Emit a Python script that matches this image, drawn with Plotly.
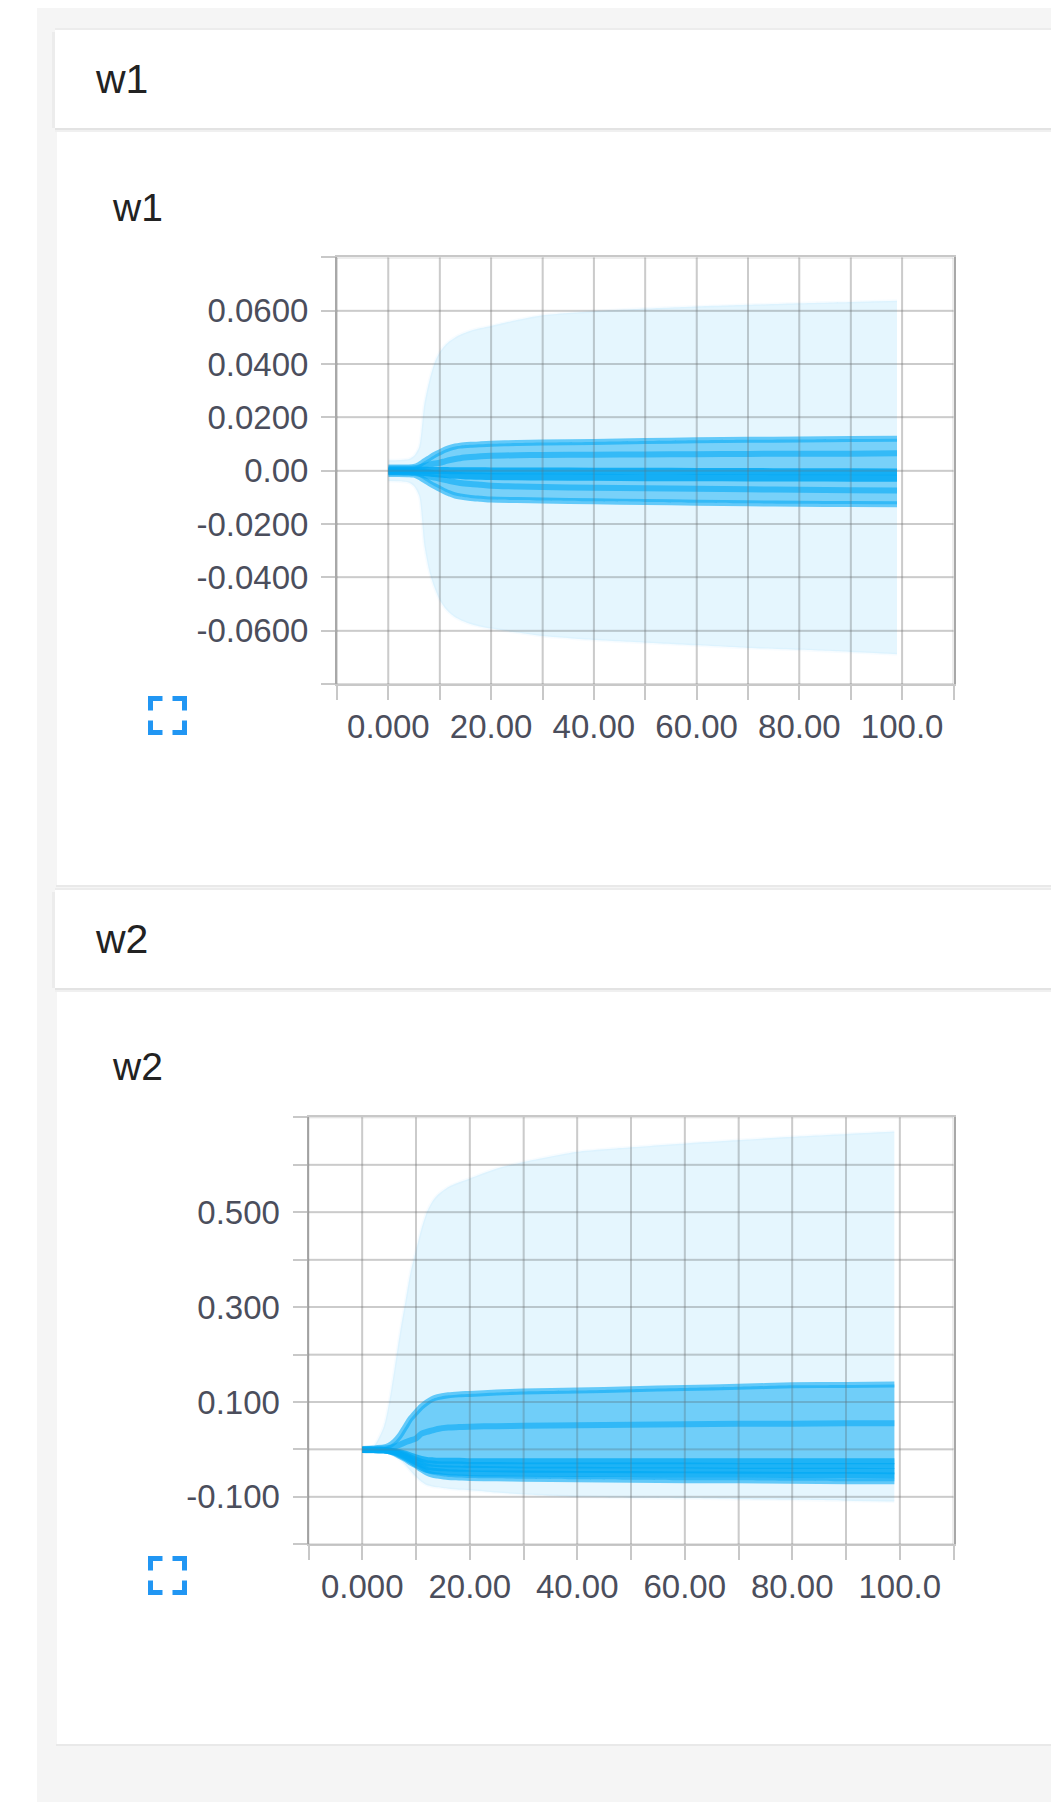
import plotly.graph_objects as go

W, H = 1051, 1802

# ---------- data ----------
steps = [0, 2, 4, 5, 6, 7, 8, 9, 10, 11, 12, 13, 14, 16, 18, 20, 25, 30, 40, 50, 60, 70, 80, 90, 99]

w1_max = [.0039, .0040, .0044, .0056, .0090, .0250, .0340, .0405, .0445, .0470, .0487, .0500, .0510, .0525, .0535, .0543, .0565, .0583, .0598, .0608, .0616, .0622, .0628, .0633, .0637]
w1_min = [-.0039, -.0040, -.0045, -.0058, -.0095, -.0280, -.0380, -.0440, -.0485, -.0515, -.0535, -.0550, -.0560, -.0575, -.0585, -.0592, -.0607, -.0620, -.0635, -.0645, -.0655, -.0665, -.0672, -.0680, -.0688]
w1_p93 = [.0012, .0012, .0012, .0014, .0022, .0035, .0047, .0059, .0069, .0079, .0086, .0091, .0094, .0097, .0099, .0101, .0104, .0106, .0108, .0111, .0114, .0116, .0117, .0119, .0120]
w1_p84 = [.0008, .0008, .0008, .0009, .0012, .0018, .0023, .0027, .0030, .0035, .0040, .0044, .0047, .0051, .0054, .0056, .0058, .0059, .0060, .0061, .0062, .0063, .0064, .0064, .0065]
w1_p58 = [.0002, .0002, .0002, .0002, .0002, .0002, .0001, .0001, .0001, .0001, .0000, .0000, .0000, .0000, .0000, -.0001, -.0001, -.0001, -.0002, -.0002, -.0003, -.0003, -.0004, -.0004, -.0005]
w1_p42 = [-.0003, -.0003, -.0003, -.0004, -.0005, -.0007, -.0009, -.0011, -.0012, -.0014, -.0016, -.0017, -.0018, -.0020, -.0021, -.0022, -.0023, -.0024, -.0025, -.0026, -.0026, -.0027, -.0027, -.0028, -.0028]
w1_p31 = [-.0007, -.0007, -.0008, -.0009, -.0012, -.0017, -.0022, -.0026, -.0030, -.0034, -.0039, -.0043, -.0046, -.0050, -.0053, -.0056, -.0059, -.0061, -.0064, -.0066, -.0068, -.0070, -.0071, -.0073, -.0074]
w1_p07 = [-.0012, -.0012, -.0013, -.0015, -.0023, -.0035, -.0047, -.0058, -.0068, -.0078, -.0086, -.0093, -.0097, -.0102, -.0105, -.0108, -.0110, -.0112, -.0115, -.0117, -.0120, -.0122, -.0124, -.0125, -.0126]

w2_max = [.004, .006, .048, .100, .170, .245, .310, .375, .420, .465, .500, .522, .536, .553, .563, .571, .592, .606, .6275, .637, .645, .652, .659, .665, .670]
w2_min = [-.004, -.004, -.005, -.008, -.014, -.022, -.033, -.046, -.058, -.068, -.075, -.078, -.080, -.083, -.085, -.086, -.091, -.095, -.100, -.102, -.103, -.105, -.106, -.108, -.110]
w2_p93 = [.001, .002, .004, .008, .016, .029, .047, .065, .078, .090, .099, .106, .110, .114, .116, .117, .120, .122, .124, .127, .1295, .132, .135, .136, .137]
w2_p69 = [.001, .001, .002, .003, .006, .010, .015, .019, .023, .033, .037, .040, .043, .046, .047, .048, .049, .050, .051, .052, .053, .054, .054, .055, .055]
w2_p42 = [-.001, -.001, -.001, -.002, -.004, -.006, -.009, -.013, -.017, -.020, -.022, -.023, -.024, -.024, -.024, -.025, -.025, -.025, -.025, -.025, -.025, -.025, -.025, -.025, -.025]
w2_p31 = [-.001, -.001, -.002, -.003, -.005, -.008, -.012, -.017, -.022, -.026, -.029, -.030, -.031, -.032, -.032, -.033, -.033, -.034, -.034, -.034, -.034, -.035, -.035, -.035, -.035]
w2_p16 = [-.001, -.001, -.002, -.003, -.006, -.010, -.015, -.021, -.027, -.032, -.036, -.038, -.039, -.040, -.041, -.041, -.042, -.043, -.043, -.044, -.044, -.045, -.045, -.045, -.046]
w2_p10 = [-.001, -.001, -.002, -.004, -.007, -.012, -.018, -.025, -.032, -.038, -.043, -.045, -.046, -.048, -.049, -.050, -.051, -.051, -.052, -.052, -.053, -.053, -.054, -.054, -.055]
w2_p07 = [-.001, -.002, -.002, -.004, -.008, -.014, -.020, -.028, -.034, -.042, -.049, -.053, -.055, -.058, -.059, -.060, -.061, -.062, -.063, -.064, -.065, -.065, -.066, -.067, -.067]

x_ticks = [-10, 0, 10, 20, 30, 40, 50, 60, 70, 80, 90, 100, 110]
x_labels = ["", "0.000", "", "20.00", "", "40.00", "", "60.00", "", "80.00", "", "100.0", ""]
w1_y_ticks = [-.08, -.06, -.04, -.02, 0, .02, .04, .06, .08]
w1_y_labels = ["", "-0.0600", "-0.0400", "-0.0200", "0.00", "0.0200", "0.0400", "0.0600", ""]
w2_y_ticks = [-.2, -.1, 0, .1, .2, .3, .4, .5, .6, .7]
w2_y_labels = ["", "-0.100", "", "0.100", "", "0.300", "", "0.500", "", ""]

# ---------- style ----------
BLUE = "3,169,244"
LABEL = "#4b4e5c"
FONT = "Liberation Sans, Arial, sans-serif"
GREY = "#f5f5f5"
GRID = "rgba(110,110,110,0.25)"
AX = "#c8c8c8"
SMOOTH = dict(shape="spline", smoothing=0.7)


def px(x):
    return x / W


def py(y):
    return 1 - y / H


fig = go.Figure()


def band(upper, lower, alpha, xa, ya, edge):
    fig.add_trace(go.Scatter(x=steps, y=upper, mode="lines", xaxis=xa, yaxis=ya, showlegend=False,
                             hoverinfo="skip", line=dict(color=f"rgba({BLUE},{edge})", width=3, **SMOOTH)))
    fig.add_trace(go.Scatter(x=steps, y=lower, mode="lines", xaxis=xa, yaxis=ya, showlegend=False,
                             hoverinfo="skip", fill="tonexty", fillcolor=f"rgba({BLUE},{alpha})",
                             line=dict(color=f"rgba({BLUE},{edge})", width=3, **SMOOTH)))


def stripe(vals, alpha, width, xa, ya):
    fig.add_trace(go.Scatter(x=steps, y=vals, mode="lines", xaxis=xa, yaxis=ya, showlegend=False,
                             hoverinfo="skip", line=dict(color=f"rgba({BLUE},{alpha})", width=width, **SMOOTH)))


band(w1_max, w1_min, .10, "x", "y", .03)
band(w1_p93, w1_p07, .48, "x", "y", 0)
for vals in (w1_p93, w1_p84, w1_p31, w1_p07):
    stripe(vals, .58, 6, "x", "y")
for vals in (w1_p58, w1_p42):
    stripe(vals, .85, 7, "x", "y")

band(w2_max, w2_min, .10, "x2", "y2", .03)
band(w2_p93, w2_p07, .52, "x2", "y2", 0)
for vals in (w2_p93, w2_p69, w2_p07):
    stripe(vals, .58, 6, "x2", "y2")
for vals in (w2_p42, w2_p31, w2_p16, w2_p10):
    stripe(vals, .75, 6, "x2", "y2")


def axes(xd, yd, yt, yl, anchor_x, anchor_y):
    xax = dict(domain=[px(xd[0]), px(xd[1])], range=[x_ticks[0], x_ticks[-1]], tickmode="array",
               tickvals=x_ticks, ticktext=x_labels, ticks="outside", ticklen=14, tickwidth=2, tickcolor=AX,
               showgrid=True, gridcolor="rgba(150,150,150,0.20)", gridwidth=2, zeroline=False, showline=True,
               linecolor=AX, linewidth=2, mirror=True, anchor=anchor_y, ticklabelstandoff=-2,
               tickfont=dict(family=FONT, size=33, color=LABEL), tickangle=0)
    yax = dict(domain=[py(yd[1]), py(yd[0])], range=[yt[0], yt[-1]], tickmode="array",
               tickvals=yt, ticktext=yl, ticks="outside", ticklen=14, tickwidth=2, tickcolor=AX,
               showgrid=True, gridcolor="rgba(150,150,150,0.20)", gridwidth=2, zeroline=False, showline=True,
               linecolor="#a8a8a8", linewidth=2, mirror=True, anchor=anchor_x, ticklabelstandoff=6,
               tickfont=dict(family=FONT, size=33, color=LABEL))
    return xax, yax


xa1, ya1 = axes((337, 953.5), (257.4, 684), w1_y_ticks, w1_y_labels, "x", "y")
xa2, ya2 = axes((308.5, 953.5), (1117.3, 1544.3), w2_y_ticks, w2_y_labels, "x2", "y2")

shapes = []


def rect(x0, y0, x1, y1, color):
    shapes.append(dict(type="rect", xref="paper", yref="paper", x0=px(x0), x1=px(x1), y0=py(y0), y1=py(y1),
                       fillcolor=color, line=dict(width=0), layer="below"))


# page, cards and their soft shadows
rect(37, 8, W, H, GREY)
for top, head, bottom in ((30, 128, 885), (890, 988, 1744)):
    rect(57, head, W, bottom, "#ffffff")
    rect(56, bottom, W, bottom + 2, "#e9e9e9")
    rect(52, top + 2, 55, head, "#ececec")
    rect(55, top - 2, W, top, "#ececec")
    rect(55, top, W, head, "#ffffff")
    rect(55, head, W, head + 2, "#e3e3e3")
    rect(55, head + 2, W, head + 4, "#f0f0f0")

# fullscreen glyphs
for top in (696, 1556):
    L, R, T, B, a = 150.5, 184.5, top + 2.5, top + 36.5, 12
    for pts in (((L, T + a), (L, T), (L + a, T)), ((R - a, T), (R, T), (R, T + a)),
                ((L, B - a), (L, B), (L + a, B)), ((R - a, B), (R, B), (R, B - a))):
        path = "M" + " L".join(f"{px(p[0]):.5f},{py(p[1]):.5f}" for p in pts)
        shapes.append(dict(type="path", xref="paper", yref="paper", path=path,
                           line=dict(color="#2196f3", width=5), layer="above"))

# grid seen through the translucent bands
for xr, yr, yt in (("x", "y", w1_y_ticks), ("x2", "y2", w2_y_ticks)):
    for t in x_ticks:
        shapes.append(dict(type="line", xref=xr, yref=yr, x0=t, x1=t, y0=yt[0], y1=yt[-1],
                           line=dict(color=GRID, width=2), layer="above"))
    for t in yt:
        shapes.append(dict(type="line", xref=xr, yref=yr, x0=x_ticks[0], x1=x_ticks[-1], y0=t, y1=t,
                           line=dict(color=GRID, width=2), layer="above"))

texts = [("w1", 95, 93, 41), ("w1", 112, 220, 39), ("w2", 95, 953, 41), ("w2", 112, 1079, 39)]
annotations = [dict(text=t, x=px(x), y=py(y + 9), xref="paper", yref="paper", xanchor="left", yanchor="bottom",
                    showarrow=False, font=dict(family=FONT, size=s, color="#222222"), borderpad=0, borderwidth=0)
               for t, x, y, s in texts]

fig.update_layout(width=W, height=H, autosize=False, margin=dict(l=0, r=0, t=0, b=0),
                  paper_bgcolor="#ffffff", plot_bgcolor="rgba(0,0,0,0)", showlegend=False,
                  xaxis=xa1, yaxis=ya1, xaxis2=xa2, yaxis2=ya2, shapes=shapes, annotations=annotations)

fig.write_html("out.html", config=dict(displayModeBar=False),
               post_script="document.body.style.margin='0';document.body.style.overflow='hidden';")
